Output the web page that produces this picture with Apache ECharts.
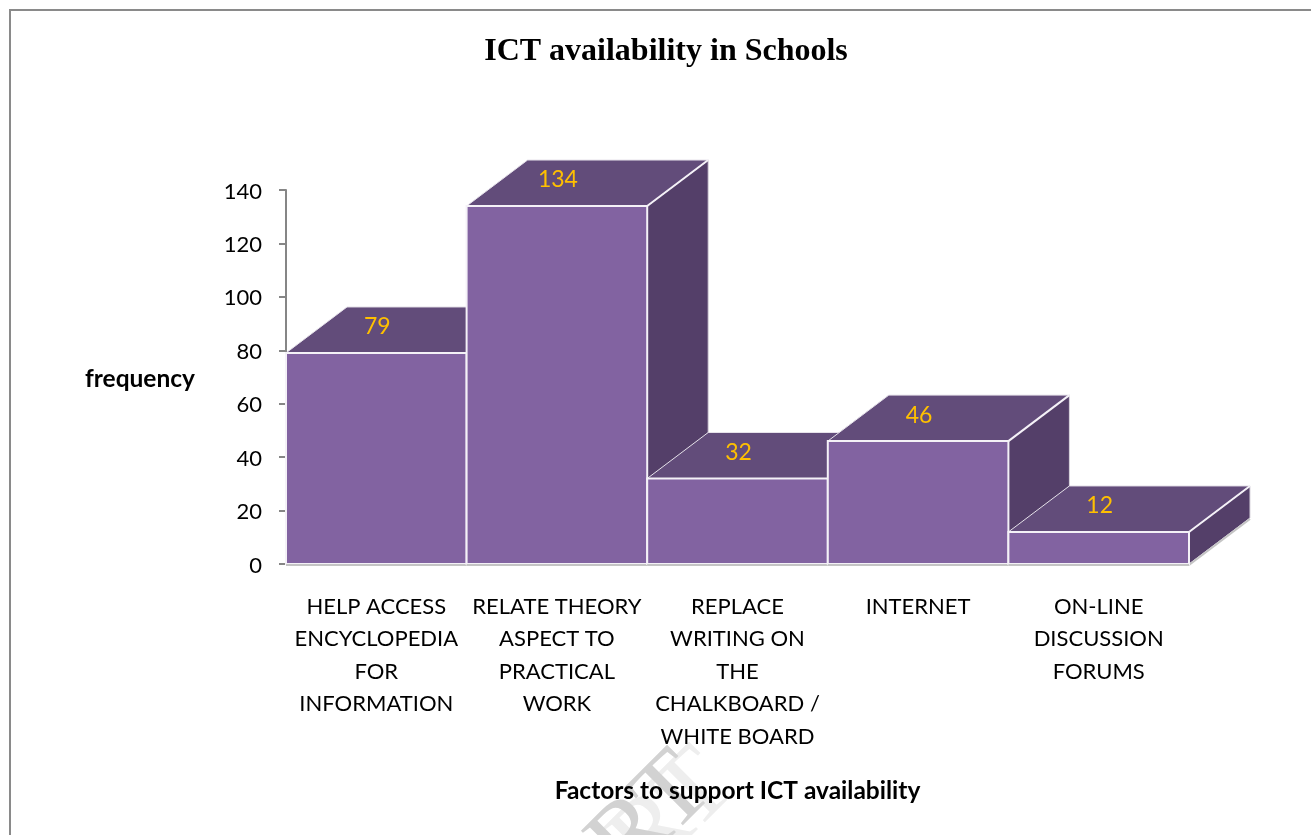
<!DOCTYPE html>
<html>
<head>
<meta charset="utf-8">
<style>
  html, body { margin: 0; padding: 0; background: #fff; }
  #chart { width: 1311px; height: 835px; }
</style>
<script src="https://cdn.jsdelivr.net/npm/echarts@6/dist/echarts.min.js"></script>
</head>
<body>
<div id="chart"></div>
<script>
const categories = [
  'HELP ACCESS\nENCYCLOPEDIA\nFOR\nINFORMATION',
  'RELATE THEORY\nASPECT TO\nPRACTICAL\nWORK',
  'REPLACE\nWRITING ON\nTHE\nCHALKBOARD /\nWHITE BOARD',
  'INTERNET',
  'ON-LINE\nDISCUSSION\nFORUMS'
];
const frequency = [79, 134, 32, 46, 12];
const yTicks = { min: 0, max: 140, interval: 20 };

const DEPTH_X = 61;
const DEPTH_Y = 46;
const EDGE = { stroke: '#f4f1f7', lineWidth: 2 };
const SHADOW = { stroke: '#c4c4c4', lineWidth: 2 };

const chart = echarts.init(document.getElementById('chart'));

// front, top and side face of one box; later boxes paint over earlier ones
function renderBox(params, api) {
  const top = api.coord([api.value(0), api.value(1)]);
  const base = api.coord([api.value(0), 0]);
  const w = api.size([1, 0])[0];
  const x0 = top[0] - w / 2;
  const x1 = top[0] + w / 2;
  const y0 = top[1];
  const y1 = base[1];
  return {
    type: 'group',
    children: [
      {
        type: 'polygon',
        shape: { points: [[x1, y0], [x1 + DEPTH_X, y0 - DEPTH_Y], [x1 + DEPTH_X, y1 - DEPTH_Y], [x1, y1]] },
        style: { fill: '#543f69', stroke: '#d9d5de', lineWidth: 1 }
      },
      {
        type: 'polygon',
        shape: { points: [[x0, y0], [x0 + DEPTH_X, y0 - DEPTH_Y], [x1 + DEPTH_X, y0 - DEPTH_Y], [x1, y0]] },
        style: { fill: '#624c7a', stroke: '#e6e2ea', lineWidth: 1 }
      },
      {
        type: 'line',
        shape: { x1: x1, y1: y0, x2: x1 + DEPTH_X, y2: y0 - DEPTH_Y },
        style: EDGE
      },
      {
        type: 'line',
        shape: { x1: x1, y1: y1 + 1, x2: x1 + DEPTH_X, y2: y1 + 1 - DEPTH_Y },
        style: SHADOW
      },
      {
        type: 'rect',
        shape: { x: x0, y: y0, width: x1 - x0, height: y1 - y0 },
        style: Object.assign({ fill: '#8263a1' }, EDGE)
      },
      {
        type: 'line',
        shape: { x1: x0, y1: y1 + 1, x2: x1, y2: y1 + 1 },
        style: SHADOW
      },
      {
        type: 'text',
        style: {
          text: String(api.value(1)),
          x: top[0] + 1,
          y: y0 - 26,
          align: 'center',
          verticalAlign: 'middle',
          fill: '#ffc000',
          font: '23px Lato'
        }
      }
    ]
  };
}

chart.setOption({
  animation: false,
  title: {
    text: 'ICT availability in Schools',
    left: 661,
    top: 31,
    textAlign: 'center',
    textStyle: { fontFamily: 'Liberation Serif', fontWeight: 'bold', fontSize: 32, color: '#000' }
  },
  grid: { left: 286, right: 122, top: 190, bottom: 271 },
  xAxis: {
    type: 'category',
    data: categories,
    name: 'Factors to support ICT availability',
    nameLocation: 'middle',
    nameGap: 215,
    nameTextStyle: { fontFamily: 'Lato', fontWeight: 'bold', fontSize: 24.5, color: '#000' },
    axisTick: { show: false },
    axisLine: { lineStyle: { color: '#bdbdbd', width: 2 } },
    axisLabel: {
      interval: 0,
      margin: 26.5,
      fontFamily: 'Lato',
      fontSize: 22,
      lineHeight: 32.5,
      color: '#000'
    }
  },
  yAxis: {
    type: 'value',
    min: yTicks.min,
    max: yTicks.max,
    interval: yTicks.interval,
    name: 'frequency',
    nameLocation: 'middle',
    nameRotate: 0,
    nameGap: 91,
    // thin top-aligned line box nudges the text a little under its anchor
    nameTextStyle: { fontFamily: 'Lato', fontWeight: 'bold', fontSize: 24.5, color: '#000', verticalAlign: 'top', lineHeight: 4 },
    splitLine: { show: false },
    axisLine: { show: true, lineStyle: { color: '#868686', width: 2 } },
    axisTick: { show: true, length: 7, lineStyle: { color: '#868686', width: 2 } },
    axisLabel: { margin: 24, fontFamily: 'Lato', fontSize: 22, color: '#000', verticalAlign: 'top', lineHeight: 3 }
  },
  series: [{
    type: 'custom',
    renderItem: renderBox,
    encode: { x: 0, y: 1 },
    clip: false,
    data: frequency.map((v, i) => [i, v])
  }],
  graphic: [
    { type: 'rect', silent: true, shape: { x: 9, y: 9, width: 1302, height: 2 }, style: { fill: '#8a8a8a' } },
    { type: 'rect', silent: true, shape: { x: 9, y: 9, width: 2, height: 826 }, style: { fill: '#8a8a8a' } },
    // page watermark running off the bottom edge
    {
      type: 'text', silent: true, x: 756, y: 806, rotation: Math.PI / 4,
      style: { text: 'RT', align: 'right', verticalAlign: 'bottom', fill: '#eeeeee', font: '104px Liberation Serif' }
    },
    {
      type: 'text', silent: true, x: 734, y: 809, rotation: Math.PI / 4,
      style: { text: 'RT', align: 'right', verticalAlign: 'bottom', fill: '#d2d2d2', font: '104px Liberation Serif' }
    }
  ]
});
</script>
</body>
</html>
